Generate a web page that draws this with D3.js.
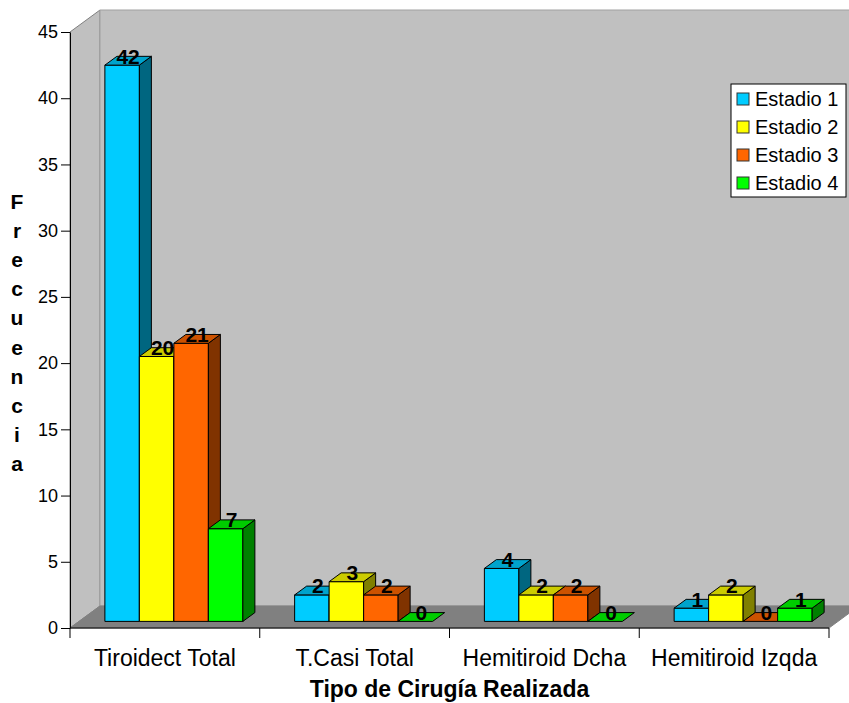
<!DOCTYPE html>
<html>
<head>
<meta charset="utf-8">
<script src="https://cdn.jsdelivr.net/npm/d3@7"></script>
<style>
  html, body { margin: 0; padding: 0; background: #fff; }
  svg { display: block; font-family: "Liberation Sans", Arial, sans-serif; }
</style>
</head>
<body>
<script>
// 3D-style clustered column chart: surgery type by stage
const categories = ["Tiroidect Total", "T.Casi Total", "Hemitiroid Dcha", "Hemitiroid Izqda"];
const series = ["Estadio 1", "Estadio 2", "Estadio 3", "Estadio 4"];
const estadio1 = [42, 2, 4, 1];
const estadio2 = [20, 3, 2, 2];
const estadio3 = [21, 2, 2, 0];
const estadio4 = [7, 0, 0, 1];
const yTicks = [0, 5, 10, 15, 20, 25, 30, 35, 40, 45];
const yTitle = "Frecuencia";
const xTitle = "Tipo de Cirugía Realizada";

const values = [estadio1, estadio2, estadio3, estadio4];
const FRONT = ["#00ccff", "#ffff00", "#ff6600", "#00ff00"];
const TOP = ["#00a3cc", "#cccc00", "#cc5200", "#00cc00"];
const SIDE = ["#006680", "#808000", "#803300", "#008000"];

const W = 849, H = 703;
const plotL = 70, plotR = 829;
const DX = 30, DY = -22; // depth of the 3D box
const y = d3.scaleLinear().domain([0, 45]).range([628, 32]);
const x0 = d3.scaleBand().domain(categories).range([plotL, plotR]);
const x1 = d3.scaleBand().domain(series).range([0, x0.bandwidth()]).paddingOuter(0.75);

const svg = d3.select("body").append("svg").attr("width", W).attr("height", H);
const pts = a => a.map(p => p.join(",")).join(" ");

// walls and floor
const yTop = y(45), y0 = y(0);
svg.append("polygon").attr("points", pts([[plotL, yTop], [plotL + DX, yTop + DY], [plotL + DX, y0 + DY], [plotL, y0]]))
  .attr("fill", "#c0c0c0").attr("stroke", "#808080");
svg.append("polygon").attr("points", pts([[plotL + DX, yTop + DY], [plotR + DX, yTop + DY], [plotR + DX, y0 + DY], [plotL + DX, y0 + DY]]))
  .attr("fill", "#c0c0c0").attr("stroke", "#a0a0a0");
svg.append("polygon").attr("points", pts([[plotL, y0], [plotR, y0], [plotR + DX, y0 + DY], [plotL + DX, y0 + DY]]))
  .attr("fill", "#808080").attr("stroke", "#808080");

// bars
const rows = [];
categories.forEach((c, i) => series.forEach((s, j) => rows.push({ c, s, j, v: values[j][i] })));
const fd = 0.3, bd = 0.4;
const bdx = bd * DX, bdy = bd * DY;
const geo = d => {
  const fx = x0(d.c) + x1(d.s) + fd * DX, w = x1.bandwidth();
  return { fx, w, fy: y(d.v) + fd * DY, fy0: y(0) + fd * DY };
};
const g = svg.append("g").attr("stroke", "#000").attr("stroke-width", 1).attr("stroke-linejoin", "round");
rows.forEach(d => {
  const { fx, w, fy, fy0 } = geo(d);
  if (d.v > 0) {
    g.append("rect").attr("x", fx).attr("y", fy).attr("width", w).attr("height", fy0 - fy).attr("fill", FRONT[d.j]);
    g.append("polygon").attr("points", pts([[fx + w, fy], [fx + w + bdx, fy + bdy], [fx + w + bdx, fy0 + bdy], [fx + w, fy0]]))
      .attr("fill", SIDE[d.j]);
  }
  g.append("polygon").attr("points", pts([[fx, fy], [fx + w, fy], [fx + w + bdx, fy + bdy], [fx + bdx, fy + bdy]]))
    .attr("fill", TOP[d.j]);
});

// value labels
svg.selectAll(".vlabel").data(rows).join("text").attr("class", "vlabel")
  .attr("x", d => { const q = geo(d); return q.fx + q.w / 2 + bdx / 2; })
  .attr("y", d => geo(d).fy - 1.5)
  .attr("text-anchor", "middle").attr("font-size", 21).attr("font-weight", "bold").attr("fill", "#000")
  .text(d => d.v);

// y axis
const yAxis = svg.append("g").attr("transform", `translate(${plotL},0)`)
  .call(d3.axisLeft(y).tickValues(yTicks).tickSize(9).tickSizeOuter(0).tickPadding(3));
yAxis.select(".domain").attr("stroke", "#000");
yAxis.selectAll(".tick line").attr("stroke", "#000");
yAxis.selectAll(".tick text").attr("font-size", 18).attr("fill", "#000")
  .attr("font-family", "'Liberation Sans', Arial, sans-serif");

// x axis
svg.append("line").attr("x1", plotL).attr("x2", plotR).attr("y1", y0).attr("y2", y0).attr("stroke", "#000");
const bounds = categories.map(c => x0(c)).concat([plotR]);
svg.selectAll(".xtick").data(bounds).join("line").attr("class", "xtick")
  .attr("x1", d => d).attr("x2", d => d).attr("y1", y0).attr("y2", y0 + 10).attr("stroke", "#000");
svg.selectAll(".xlabel").data(categories).join("text").attr("class", "xlabel")
  .attr("x", d => x0(d) + x0.bandwidth() / 2).attr("y", 666)
  .attr("text-anchor", "middle").attr("font-size", 23).attr("fill", "#000").text(d => d);

// titles
svg.append("text").attr("x", (plotL + plotR) / 2).attr("y", 697).attr("text-anchor", "middle")
  .attr("font-size", 23).attr("font-weight", "bold").text(xTitle);
svg.selectAll(".ytitle").data(yTitle.split("")).join("text").attr("class", "ytitle")
  .attr("x", 17).attr("y", (d, i) => 209 + i * 29.1).attr("text-anchor", "middle")
  .attr("font-size", 21).attr("font-weight", "bold").text(d => d);

// legend
const lg = svg.append("g").attr("transform", "translate(731,84)");
lg.append("rect").attr("width", 115).attr("height", 113).attr("fill", "#fff").attr("stroke", "#000");
series.forEach((s, j) => {
  const cy = 15 + j * 28;
  lg.append("rect").attr("x", 6).attr("y", cy - 6).attr("width", 12).attr("height", 12)
    .attr("fill", FRONT[j]).attr("stroke", "#333");
  lg.append("text").attr("x", 24).attr("y", cy + 7).attr("font-size", 20).text(s);
});
</script>
</body>
</html>
